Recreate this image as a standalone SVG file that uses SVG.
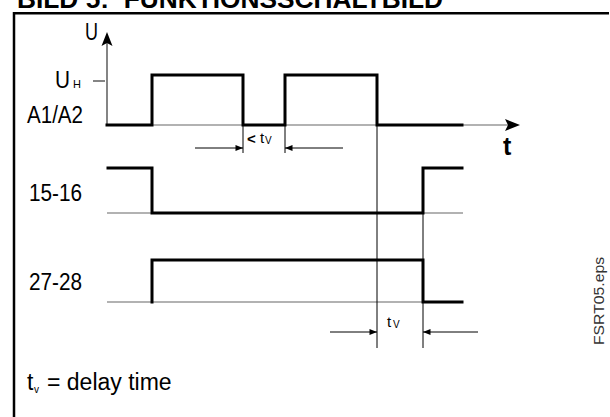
<svg xmlns="http://www.w3.org/2000/svg" width="610" height="417" viewBox="0 0 610 417">
<defs>
<style>
.lbl{font-family:"Liberation Sans",Arial,sans-serif;font-size:23px;fill:#000}
.small{font-family:"Liberation Sans",Arial,sans-serif;font-size:15px;fill:#000}
.sub{font-family:"Liberation Sans",Arial,sans-serif;font-size:10px;fill:#000}
.title{font-family:"Liberation Sans",Arial,sans-serif;font-size:26px;font-weight:bold;fill:#000}
.sig{fill:none;stroke:#000;stroke-width:3;stroke-linejoin:miter;stroke-linecap:square}
.base{fill:none;stroke:#666;stroke-width:1.2}
.thin{fill:none;stroke:#000;stroke-width:1}
.frame{fill:none;stroke:#000;stroke-width:2.5}
</style>
<marker id="ah" viewBox="0 0 10 8" refX="10" refY="4" markerWidth="8" markerHeight="6" markerUnits="userSpaceOnUse" orient="auto">
<path d="M0,0 L10,4 L0,8 Z" fill="#000"/>
</marker>
</defs>
<rect width="610" height="417" fill="#fff"/>
<g id="title">
<text class="title" x="17" y="7.5" textLength="426" lengthAdjust="spacingAndGlyphs" xml:space="preserve">BILD 5:  FUNKTIONSSCHALTBILD</text>
</g>
<g id="frame">
<path class="frame" d="M14,417 V13.3 H609"/>
</g>
<g id="axes">
<line x1="107" y1="125" x2="107" y2="42" stroke="#333" stroke-width="1.2"/>
<polygon points="107,32 101.5,46 107,43 112.5,46" fill="#000"/>
<line x1="107" y1="125" x2="510" y2="125" class="base"/>
<polygon points="520,125 505,119 508,125 505,131" fill="#000"/>
<line x1="93" y1="81" x2="105" y2="81" stroke="#333" stroke-width="1.2"/>
<text class="lbl" x="85" y="40" textLength="13" lengthAdjust="spacingAndGlyphs">U</text>
<text class="lbl" x="55" y="88" textLength="15" lengthAdjust="spacingAndGlyphs">U</text>
<text class="sub" x="73" y="88" style="font-size:11px">H</text>
<text x="503" y="155" style="font-family:'Liberation Sans',Arial,sans-serif;font-size:25px;font-weight:bold">t</text>
</g>
<g id="signal-a1a2">
<text class="lbl" x="27" y="123" textLength="56" lengthAdjust="spacingAndGlyphs">A1/A2</text>
<polyline class="sig" points="107,125 152,125 152,75 243,75 243,125 285,125 285,75 377,75 377,125 462,125"/>
</g>
<g id="signal-1516">
<text class="lbl" x="29" y="201" textLength="53" lengthAdjust="spacingAndGlyphs">15-16</text>
<line x1="107" y1="213" x2="463" y2="213" class="base"/>
<polyline class="sig" points="108,168 152,168 152,213 423,213 423,168 462,168"/>
</g>
<g id="signal-2728">
<text class="lbl" x="29" y="290" textLength="53" lengthAdjust="spacingAndGlyphs">27-28</text>
<line x1="107" y1="302" x2="463" y2="302" class="base"/>
<polyline class="sig" points="152,302 152,260 423,260 423,302 462,302"/>
</g>
<g id="connectors">
<line class="thin" x1="243" y1="125" x2="243" y2="153"/>
<line class="thin" x1="285" y1="125" x2="285" y2="153"/>
<line class="thin" x1="377" y1="125" x2="377" y2="348"/>
<line class="thin" x1="423" y1="213" x2="423" y2="348"/>
<line class="thin" x1="195" y1="148" x2="243" y2="148" marker-end="url(#ah)"/>
<line class="thin" x1="343" y1="148" x2="285" y2="148" marker-end="url(#ah)"/>
<line class="thin" x1="330" y1="332" x2="377" y2="332" marker-end="url(#ah)"/>
<line class="thin" x1="478" y1="332" x2="423" y2="332" marker-end="url(#ah)"/>
</g>
<g id="dim-labels">
<text class="small" x="247" y="144" style="font-weight:bold">&lt;</text>
<text class="small" x="260" y="143">t</text>
<text class="sub" x="265" y="144">V</text>
<text class="small" x="387" y="327">t</text>
<text class="sub" x="393" y="328">V</text>
</g>
<g id="footnote">
<text class="lbl" x="27" y="390">t</text>
<text class="sub" x="34" y="393">v</text>
<text class="lbl" x="47" y="390">= delay time</text>
</g>
<g id="fileref">
<text class="small" transform="translate(604,345) rotate(-90)" style="font-size:15px;fill:#333" textLength="88" lengthAdjust="spacingAndGlyphs">FSRT05.eps</text>
</g>
</svg>
